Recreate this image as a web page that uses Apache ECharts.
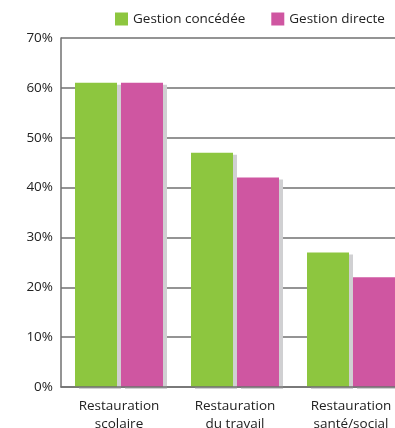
<!DOCTYPE html>
<html><head><meta charset="utf-8">
<script src="https://cdn.jsdelivr.net/npm/echarts@6/dist/echarts.min.js"></script>
<style>html,body{margin:0;padding:0;background:#fff}#c{width:395px;height:428px}</style>
</head><body><div id="c"></div>
<script>
const categories = ['Restauration\nscolaire', 'Restauration\ndu travail', 'Restauration\nsanté/social'];
const seriesNames = ['Gestion concédée', 'Gestion directe'];
const concedee = [61, 47, 27];
const directe = [61, 42, 22];
const yTicks = [0, 10, 20, 30, 40, 50, 60, 70];

const FONT = '"Open Sans", sans-serif';
const chart = echarts.init(document.getElementById('c'), null, {renderer: 'canvas'});
const shadow = {shadowColor: '#d0d0d2', shadowOffsetX: 4, shadowOffsetY: 2, shadowBlur: 0};
chart.setOption({
  animation: false,
  textStyle: {fontFamily: FONT},
  legend: {
    top: 12, left: 115, width: 400, padding: 0, itemWidth: 13, itemHeight: 13, itemGap: 26,
    icon: 'rect', orient: 'horizontal',
    textStyle: {fontFamily: FONT, fontSize: 13.5, color: '#222'},
    data: seriesNames
  },
  grid: {left: 61, top: 38, width: 348, height: 349, containLabel: false, outerBoundsMode: 'none'},
  xAxis: {
    type: 'category', data: categories, z: 10,
    axisLine: {lineStyle: {color: '#707070', width: 1.5}},
    axisTick: {inside: true, length: 6, lineStyle: {color: '#707070', width: 1.5}},
    axisLabel: {fontFamily: FONT, fontSize: 13.5, color: '#222', lineHeight: 18, margin: 10, interval: 0}
  },
  yAxis: {
    type: 'value', min: yTicks[0], max: yTicks[yTicks.length - 1], interval: 10,
    axisLine: {show: true, lineStyle: {color: '#707070', width: 1.5}},
    axisTick: {show: false},
    splitLine: {lineStyle: {color: '#707070', width: 1.5}},
    axisLabel: {fontFamily: FONT, fontSize: 13.5, color: '#222', margin: 8, formatter: '{value}%'}
  },
  series: [
    {name: seriesNames[0], type: 'bar', data: concedee, barWidth: 42, barGap: '9.5%',
     itemStyle: Object.assign({color: '#8dc63f'}, shadow)},
    {name: seriesNames[1], type: 'bar', data: directe, barWidth: 42,
     itemStyle: Object.assign({color: '#cf56a1'}, shadow)}
  ]
});
</script></body></html>
